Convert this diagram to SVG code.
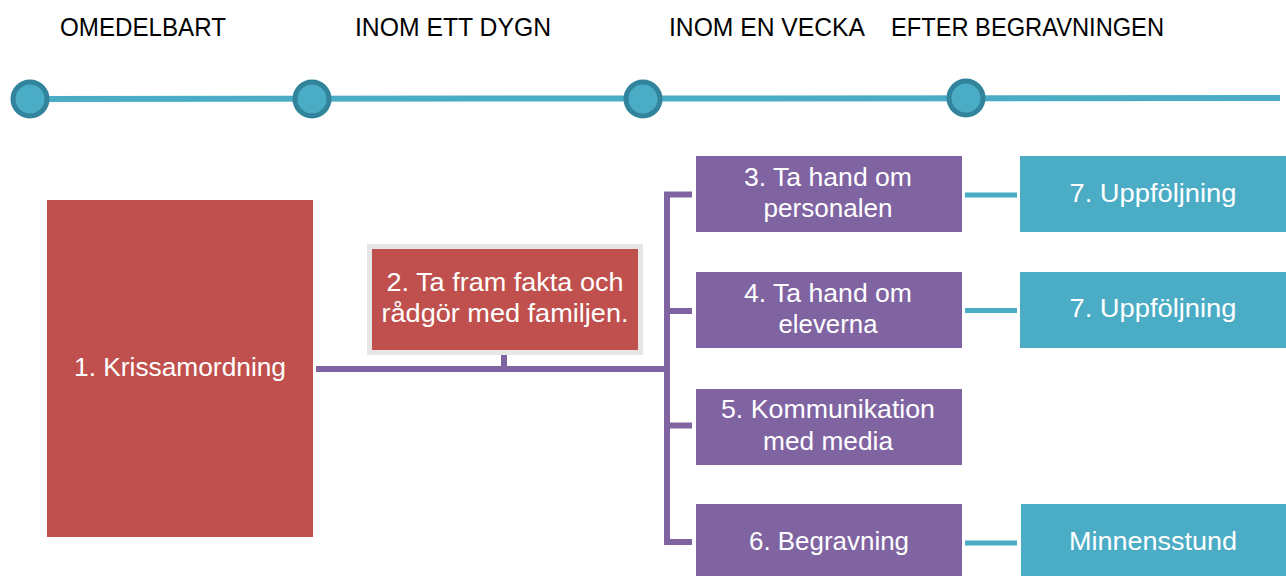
<svg xmlns="http://www.w3.org/2000/svg" width="1286" height="576" viewBox="0 0 1286 576">
  <style>
    .head { font-family: "Liberation Sans", Arial, sans-serif; font-size: 26px; fill: #000000; }
    .lbl { font-family: "Liberation Sans", Arial, sans-serif; font-size: 26px; fill: #ffffff; text-anchor: middle; }
    .red { fill: #C0504D; }
    .purple { fill: #8064A2; }
    .teal { fill: #4BACC6; }
    .dot { fill: #4BACC6; stroke: #31849B; stroke-width: 5; }
    .tree { stroke: #8064A2; stroke-width: 6; fill: none; }
    .link { stroke: #4BACC6; stroke-width: 5; fill: none; }
  </style>

  <rect width="1286" height="576" fill="#ffffff"/>

  <!-- timeline -->
  <g id="timeline">
    <line x1="30" y1="99" x2="1280" y2="98" stroke="#4BACC6" stroke-width="6"/>
    <circle class="dot" cx="30" cy="99" r="17"/>
    <circle class="dot" cx="312" cy="99" r="17"/>
    <circle class="dot" cx="643" cy="99" r="17"/>
    <circle class="dot" cx="966" cy="98" r="17"/>
  </g>

  <!-- phase headings -->
  <g id="headings">
    <text class="head" x="60" y="36" textLength="166" lengthAdjust="spacingAndGlyphs">OMEDELBART</text>
    <text class="head" x="355" y="36" textLength="196" lengthAdjust="spacingAndGlyphs">INOM ETT DYGN</text>
    <text class="head" x="669" y="36" textLength="196" lengthAdjust="spacingAndGlyphs">INOM EN VECKA</text>
    <text class="head" x="891" y="36" textLength="273" lengthAdjust="spacingAndGlyphs">EFTER BEGRAVNINGEN</text>
  </g>

  <!-- connectors -->
  <g id="connectors">
    <path class="tree" d="M316 369 H667"/>
    <path class="tree" d="M504 355 V369"/>
    <path class="tree" d="M667 194.5 V542"/>
    <path class="tree" d="M664 194.5 H692 M667 311 H692 M667 425.5 H692 M664 542 H692"/>
    <path class="link" d="M965 195 H1017 M965 310.5 H1017 M965 543 H1017"/>
  </g>

  <g id="n1">
    <rect class="red" x="47" y="200" width="266" height="337"/>
    <text class="lbl" x="180" y="376" textLength="212" lengthAdjust="spacingAndGlyphs">1. Krissamordning</text>
  </g>

  <g id="n2">
    <rect x="367" y="244" width="276" height="111" fill="#E6E6E6"/>
    <rect class="red" x="372" y="249" width="266" height="101"/>
    <text class="lbl" x="505" y="291" textLength="237" lengthAdjust="spacingAndGlyphs">2. Ta fram fakta och</text>
    <text class="lbl" x="505" y="322" textLength="247" lengthAdjust="spacingAndGlyphs">rådgör med familjen.</text>
  </g>

  <g id="n3">
    <rect class="purple" x="696" y="156" width="266" height="76"/>
    <text class="lbl" x="828" y="186" textLength="168" lengthAdjust="spacingAndGlyphs">3. Ta hand om</text>
    <text class="lbl" x="828" y="217" textLength="129" lengthAdjust="spacingAndGlyphs">personalen</text>
  </g>

  <g id="n4">
    <rect class="purple" x="696" y="272" width="266" height="76"/>
    <text class="lbl" x="828" y="302" textLength="168" lengthAdjust="spacingAndGlyphs">4. Ta hand om</text>
    <text class="lbl" x="828" y="333" textLength="99" lengthAdjust="spacingAndGlyphs">eleverna</text>
  </g>

  <g id="n5">
    <rect class="purple" x="696" y="389" width="266" height="76"/>
    <text class="lbl" x="828" y="418" textLength="214" lengthAdjust="spacingAndGlyphs">5. Kommunikation</text>
    <text class="lbl" x="828" y="450" textLength="130" lengthAdjust="spacingAndGlyphs">med media</text>
  </g>

  <g id="n6">
    <rect class="purple" x="696" y="504" width="266" height="72"/>
    <text class="lbl" x="829" y="550" textLength="160" lengthAdjust="spacingAndGlyphs">6. Begravning</text>
  </g>

  <g id="n7a">
    <rect class="teal" x="1020" y="156" width="266" height="76"/>
    <text class="lbl" x="1153" y="202" textLength="167" lengthAdjust="spacingAndGlyphs">7. Uppföljning</text>
  </g>

  <g id="n7b">
    <rect class="teal" x="1020" y="272" width="266" height="76"/>
    <text class="lbl" x="1153" y="317" textLength="167" lengthAdjust="spacingAndGlyphs">7. Uppföljning</text>
  </g>

  <g id="n8">
    <rect class="teal" x="1021" y="504" width="265" height="72"/>
    <text class="lbl" x="1153" y="550" textLength="168" lengthAdjust="spacingAndGlyphs">Minnensstund</text>
  </g>
</svg>
